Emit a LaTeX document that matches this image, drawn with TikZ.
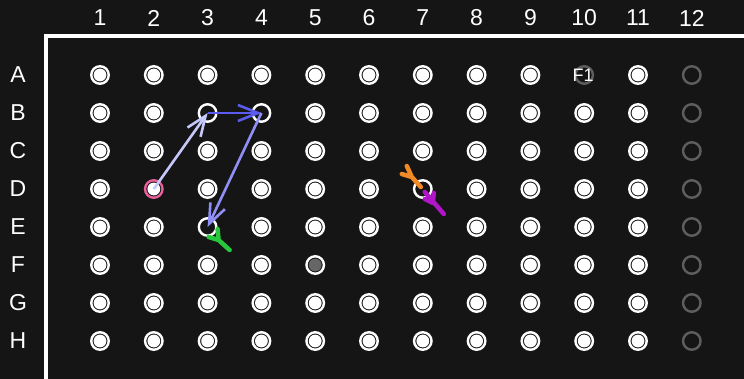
\documentclass[tikz,border=0pt]{standalone}
\usepackage{fontspec}
\setmainfont{Liberation Sans}
\usetikzlibrary{arrows.meta}
\definecolor{plateback}{HTML}{151515}
\definecolor{wellgray}{HTML}{5E5E5E}
\definecolor{coregray}{HTML}{666666}
\definecolor{myrose}{HTML}{E8609A}
\definecolor{mylav}{HTML}{C5C8FA}
\definecolor{myblue}{HTML}{5B5BF0}
\definecolor{myperi}{HTML}{8F8FF5}
\definecolor{mygreen}{HTML}{28C83C}
\definecolor{myorange}{HTML}{F08A24}
\definecolor{mypurple}{HTML}{B016C8}

\tikzset{
  well/.style={circle, inner sep=0pt, minimum size=17.5pt, line width=2.4pt, draw=white, core=white},
  core/.style={path picture={\fill[#1] (path picture bounding box.center) circle (6.4pt);}},
  hollow/.style={path picture={}},
  spent/.style={draw=wellgray, hollow},
  col 12/.style={spent},
  well A10/.style={spent},
  well F5/.style={core=coregray},
  well D2/.style={draw=myrose},
  well B3/.style={hollow},
  well B4/.style={hollow},
  well D7/.style={hollow},
  well E3/.style={hollow},
  lbl/.style={text=white, font=\fontsize{23}{27}\selectfont},
  move/.style={line width=2.6pt, -{Straight Barb[length=20pt,width=16pt]}},
  tick/.style={line width=4.5pt, line cap=round, line join=round}
}

\begin{document}
\begin{tikzpicture}[x=1pt,y=-1pt]
  \fill[plateback] (0,0) rectangle (744,379);
  \useasboundingbox (0,0) rectangle (744,379);

  % plate frame
  \draw[white, line width=4pt] (45.5,385) -- (45.5,36.5) -- (750,36.5);

  % column and row labels
  \foreach \c in {1,...,12}
    \node[lbl] (col\c) at ({100+(\c-1)*53.8},18) {\c};
  \foreach \r [count=\i] in {A,...,H}
    \node[lbl] (row\r) at (18,{75+(\i-1)*38}) {\r};

  % wells
  \foreach \r [count=\i] in {A,...,H}
    \foreach \c in {1,...,12}
      \node[well, col \c/.try, well \r\c/.try] (w\r\c) at ({100+(\c-1)*53.8},{75+(\i-1)*38}) {};

  \node[text=white, font=\fontsize{18}{20}\selectfont] (f1) at ([xshift=-1pt]wA10) {F1};

  % moves
  \draw[move, mylav] (wD2.center) -- (wB3.center);
  \draw[move, myblue] (wB3.center) -- (wB4.center);
  \draw[move, myperi] (wB4.center) -- (wE3.center);

  % marks
  \coordinate (gfork) at ([shift={(11,13)}]wE3.center);
  \coordinate (gtail) at ([shift={(22,23)}]wE3.center);
  \draw[tick, mygreen] (gtail) -- (gfork) -- ++(-10,-3) (gfork) -- ++(-1,-11);

  \coordinate (ofork) at ([shift={(-11,-12)}]wD7.center);
  \coordinate (otail) at ([shift={(-2,-2)}]wD7.center);
  \draw[tick, myorange] (otail) -- (ofork) -- ++(-10,-3) (ofork) -- ++(-5,-11);

  \coordinate (pfork) at ([shift={(10,14)}]wD7.center);
  \coordinate (ptail) at ([shift={(21,25)}]wD7.center);
  \draw[tick, mypurple] ([shift={(2,3)}]wD7.center) -- (ptail) (pfork) -- ++(-8,-4) (pfork) -- ++(1,-10);
\end{tikzpicture}
\end{document}
